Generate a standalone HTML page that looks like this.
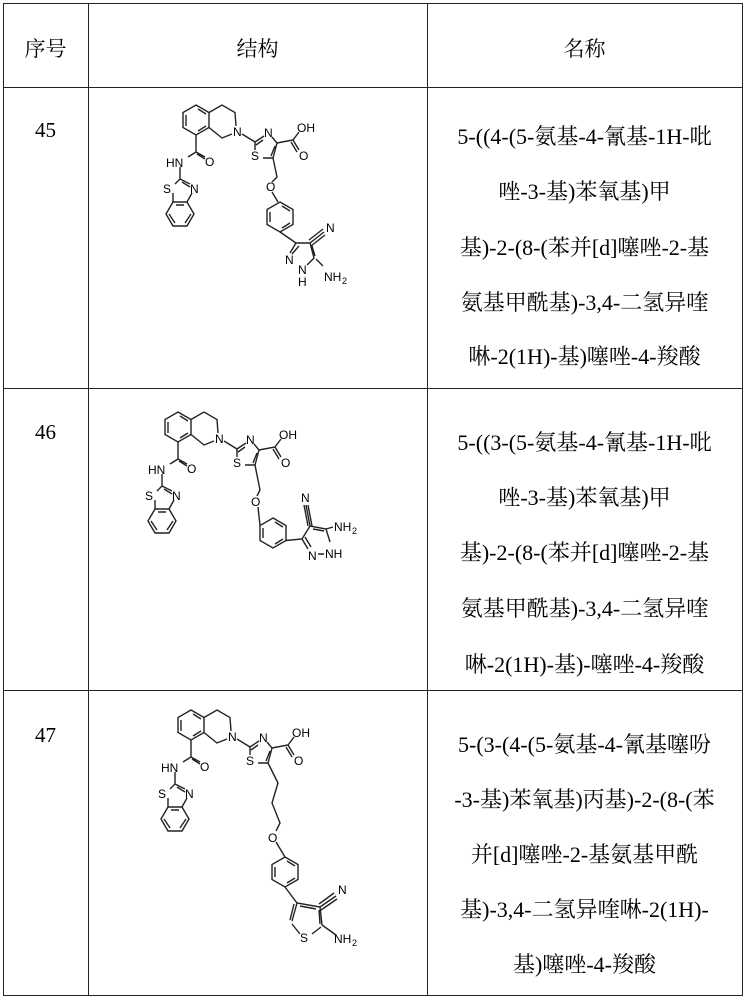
<!DOCTYPE html>
<html><head><meta charset="utf-8"><style>
body{margin:0;background:#fff;}
#p{position:relative;width:748px;height:1000px;overflow:hidden;font-family:"Liberation Serif","Noto Serif CJK SC","Noto Sans CJK SC",serif;color:#000;}
.h{position:absolute;height:0;border-top:1.5px solid #222;}
.v{position:absolute;width:0;border-left:1.5px solid #222;}
.t{position:absolute;font-size:21px;white-space:nowrap;text-align:center;}
.n{font-size:22px;}
svg{position:absolute;left:0;top:0;}
svg text{font-family:"Liberation Sans",sans-serif;font-size:12px;}
</style></head><body><div id="p">
<div class="h" style="left:3px;top:3px;width:740px"></div>
<div class="h" style="left:3px;top:87px;width:740px"></div>
<div class="h" style="left:3px;top:388px;width:740px"></div>
<div class="h" style="left:3px;top:690px;width:740px"></div>
<div class="h" style="left:3px;top:995px;width:740px"></div>
<div class="v" style="left:3px;top:3px;height:992px"></div>
<div class="v" style="left:88px;top:3px;height:992px"></div>
<div class="v" style="left:427px;top:3px;height:992px"></div>
<div class="v" style="left:742px;top:3px;height:992px"></div>

<div class="t" style="left:3px;width:85px;top:33px">序号</div>
<div class="t" style="left:88px;width:339px;top:33px">结构</div>
<div class="t" style="left:427px;width:315px;top:33px">名称</div>

<div class="t" style="left:3px;width:85px;top:118px">45</div>
<div class="t" style="left:3px;width:85px;top:420px">46</div>
<div class="t" style="left:3px;width:85px;top:723px">47</div>

<div class="t n" style="left:427px;width:315px;top:120px">5-((4-(5-氨基-4-氰基-1H-吡</div>
<div class="t n" style="left:427px;width:315px;top:175px">唑-3-基)苯氧基)甲</div>
<div class="t n" style="left:427px;width:315px;top:231px">基)-2-(8-(苯并[d]噻唑-2-基</div>
<div class="t n" style="left:427px;width:315px;top:286px">氨基甲酰基)-3,4-二氢异喹</div>
<div class="t n" style="left:427px;width:315px;top:340px">啉-2(1H)-基)噻唑-4-羧酸</div>

<div class="t n" style="left:427px;width:315px;top:426px">5-((3-(5-氨基-4-氰基-1H-吡</div>
<div class="t n" style="left:427px;width:315px;top:481px">唑-3-基)苯氧基)甲</div>
<div class="t n" style="left:427px;width:315px;top:536px">基)-2-(8-(苯并[d]噻唑-2-基</div>
<div class="t n" style="left:427px;width:315px;top:592px">氨基甲酰基)-3,4-二氢异喹</div>
<div class="t n" style="left:427px;width:315px;top:648px">啉-2(1H)-基)-噻唑-4-羧酸</div>

<div class="t n" style="left:427px;width:315px;top:728px">5-(3-(4-(5-氨基-4-氰基噻吩</div>
<div class="t n" style="left:427px;width:315px;top:783px">-3-基)苯氧基)丙基)-2-(8-(苯</div>
<div class="t n" style="left:427px;width:315px;top:838px">并[d]噻唑-2-基氨基甲酰</div>
<div class="t n" style="left:427px;width:315px;top:893px">基)-3,4-二氢异喹啉-2(1H)-</div>
<div class="t n" style="left:427px;width:315px;top:948px">基)噻唑-4-羧酸</div>

<svg width="748" height="1000" viewBox="0 0 748 1000" fill="none" stroke="#222" stroke-width="1.4">
<defs>
<g id="core">
<path d="M196,105 L209,112.5 L209,127.5 L196,135 L183,127.5 L183,112.5 Z"/>
<path d="M198,109 L206,114 M186,115 L186,126 M198,131 L206,126"/>
<path d="M209,112.5 L222,105 L235,112.5 L236,126 M232,134 L222,138 L209,127.5"/>
<path d="M196,135 L196,152 L205,157 M197,154 L205,159 M196,152 L188,157"/>
<path d="M180,167 L180,179 L175,184 M180,179 L190,184 M182,182 L190,187 M173,193 L173,202 L187,202 L192,193"/>
<path d="M173,202 L166,214 L173,226 L187,226 L194,214 L187,202 M169,214 L175,223 M185,223 L191,214 M176,205 L184,205"/>
<path d="M242,134 L255,142 L264,136 M256,145 L263,140 M272,137 L277,143 L273,158 L263,158 M275,146 L271,156 M255,142 L255,150"/>
<path d="M277,143 L293,140 L299,132 M293,140 L299,150 M291,142 L297,152"/>
</g>
</defs>

<!-- Molecule 1 -->
<use href="#core"/>
<g fill="#000" stroke="none">
<text x="233" y="136">N</text><text x="264" y="137">N</text><text x="251" y="160">S</text>
<text x="297" y="132">OH</text><text x="299" y="160">O</text><text x="205" y="166">O</text>
<text x="166" y="167">HN</text><text x="163" y="193">S</text><text x="190" y="193">N</text>
</g>
<path d="M273,158 L277,177 L272,182 M272,192 L278,202"/>
<path d="M280,202 L293,209.5 L293,224.5 L280,232 L267,224.5 L267,209.5 Z M282,206 L290,211 M270,212 L270,222 M282,228 L290,223"/>
<path d="M280,232 L296,243 L310,243 L314,258 L307,265 M299,246 L292,254 M296,243 L290,253 M312,246 L315,256 M310,243 L324,232 M309,240 L323,229 M311,246 L325,235 M316,259 L323,266"/>
<g fill="#000" stroke="none">
<text x="266" y="191">O</text><text x="285" y="264">N</text><text x="298" y="274">N</text><text x="298" y="286">H</text>
<text x="324" y="281">NH</text><text x="342" y="284" style="font-size:9px">2</text><text x="326" y="232">N</text>
</g>

<!-- Molecule 2 -->
<g transform="translate(-18,307)">
<use href="#core"/>
<g fill="#000" stroke="none">
<text x="233" y="136">N</text><text x="264" y="137">N</text><text x="251" y="160">S</text>
<text x="297" y="132">OH</text><text x="299" y="160">O</text><text x="205" y="166">O</text>
<text x="166" y="167">HN</text><text x="163" y="193">S</text><text x="190" y="193">N</text>
</g>
</g>
<path d="M255,465 L260,490 L257,496 M258,507 L260,525.5"/>
<path d="M273,518 L286,525.5 L286,540.5 L273,548 L260,540.5 L260,525.5 Z M275,522 L283,527 M263,528 L263,538 M275,544 L283,539"/>
<path d="M286,540.5 L302,539 L310,526 L326,529 L330,542 M313,529 L324,531 M302,539 L308,549 M305,537 L311,547 M318,554 L324,554 M310,526 L306,505 M308,526 L304,505 M312,526 L308,505 M326,529 L333,527"/>
<g fill="#000" stroke="none">
<text x="301" y="502">N</text><text x="308" y="560">N</text><text x="325" y="558">NH</text>
<text x="334" y="531">NH</text><text x="352" y="534" style="font-size:9px">2</text>
<text x="251" y="506">O</text>
</g>

<!-- Molecule 3 -->
<g transform="translate(-5,605)">
<use href="#core"/>
<g fill="#000" stroke="none">
<text x="233" y="136">N</text><text x="264" y="137">N</text><text x="251" y="160">S</text>
<text x="297" y="132">OH</text><text x="299" y="160">O</text><text x="205" y="166">O</text>
<text x="166" y="167">HN</text><text x="163" y="193">S</text><text x="190" y="193">N</text>
</g>
</g>
<path d="M268,763 L278,783 L272,803 L280,823 L276,831 M276,842 L285,857"/>
<path d="M285,857 L298,864.5 L298,879.5 L285,887 L272,879.5 L272,864.5 Z M287,861 L295,866 M275,867 L275,877 M287,883 L295,878"/>
<path d="M285,887 L297,903 L320,907 L322,925 M300,906 L316,909 M319,910 L320,924 M297,903 L292,921 M294,904 L290,920 M320,907 L336,896 M319,904 L334,893 M321,910 L337,899 M322,925 L336,935 M292,924 L300,934 M312,934 L321,927"/>
<g fill="#000" stroke="none">
<text x="268" y="842">O</text><text x="338" y="894">N</text><text x="300" y="942">S</text>
<text x="334" y="943">NH</text><text x="352" y="946" style="font-size:9px">2</text>
</g>
</svg>
</div></body></html>
